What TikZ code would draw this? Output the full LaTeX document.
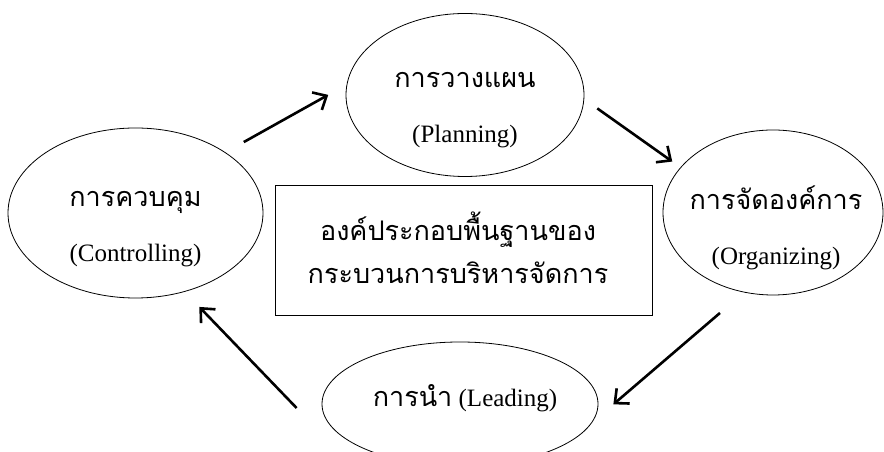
\documentclass[tikz,border=0pt]{standalone}
\usepackage{fontspec}
\setmainfont{Liberation Serif}
\newfontfamily\thai[Script=Thai]{Loma}
\usetikzlibrary{arrows.meta,shapes.geometric}
\newcommand\tht[1]{{\thai\fontsize{27}{55}\selectfont #1}}

\begin{document}
\begin{tikzpicture}[x=1pt,y=1pt,
  phase/.style={draw,ellipse,line width=0.8pt,inner sep=0pt},
  txt/.style={align=center,inner sep=0pt,font=\fontsize{25}{55}\selectfont},
  flow/.style={line width=2.6pt,-{Straight Barb[length=11pt,width=20pt]}}]
  \useasboundingbox (0,0) rectangle (884,452);
  \node[phase,minimum width=238pt,minimum height=163pt] (plan) at (465,357) {};
  \node[phase,minimum width=255pt,minimum height=170pt] (ctrl) at (135.5,239) {};
  \node[phase,minimum width=220pt,minimum height=165pt] (org) at (773,239.5) {};
  \node[phase,minimum width=276pt,minimum height=124pt] (lead) at (460,48) {};
  \node[draw,line width=0.8pt,minimum width=377pt,minimum height=130pt] (core) at (463.5,202) {};
  \node[txt] (plan-t) at ([yshift=-15pt]plan.center) {\tht{การวางแผน}\\(Planning)};
  \node[txt] (ctrl-t) at ([yshift=-16pt]ctrl.center) {\tht{การควบคุม}\\(Controlling)};
  \node[txt] (org-t) at ([xshift=3pt,yshift=-15.5pt]org.center) {\tht{การจัดองค์การ}\\(Organizing)};
  \node[txt] (lead-t) at ([xshift=5pt,yshift=6pt]lead.center) {\tht{การนำ} (Leading)};
  \node[txt,font=\fontsize{25}{43}\selectfont] (core-t) at ([xshift=-5.5pt,yshift=2pt]core.center)
    {\tht{องค์ประกอบพื้นฐานของ}\\\tht{กระบวนการบริหารจัดการ}};
  \draw[flow,shorten <=21pt,shorten >=21pt] (ctrl.34) -- (plan.175);
  \draw[flow,shorten <=16pt,shorten >=10pt] (plan.-2) -- (org.154);
  \draw[flow,shorten <=31.5pt,shorten >=28pt] (org.250) -- (lead.-8);
  \draw[flow,shorten >=21pt] ([xshift=-25pt,yshift=-4pt]lead.west) -- (ctrl.-58);
\end{tikzpicture}
\end{document}
